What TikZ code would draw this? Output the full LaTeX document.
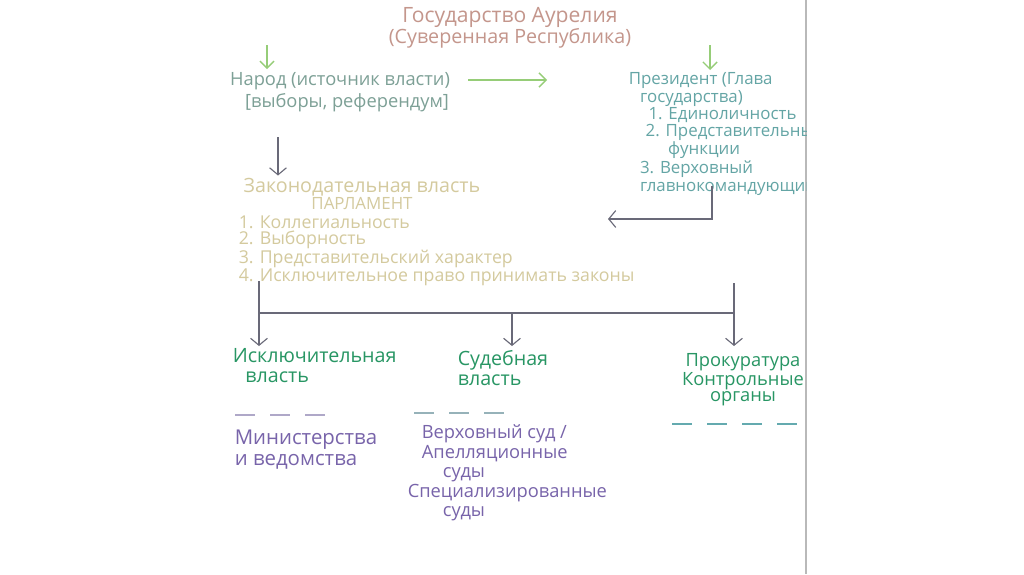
\documentclass[tikz,border=0pt]{standalone}
\usepackage{fontspec}
\setmainfont{Open Sans}
\usetikzlibrary{arrows.meta,positioning,calc}
\definecolor{hwtitle}{RGB}{196,150,140}
\definecolor{hwgreen}{RGB}{150,205,120}
\definecolor{hwpeople}{RGB}{125,160,150}
\definecolor{hwpres}{RGB}{100,165,165}
\definecolor{hwparl}{RGB}{212,202,158}
\definecolor{hwline}{RGB}{105,105,120}
\definecolor{hwbranch}{RGB}{40,150,100}
\definecolor{hwpurple}{RGB}{120,100,170}
\definecolor{hwdashL}{RGB}{175,168,200}
\definecolor{hwdashM}{RGB}{150,178,185}
\definecolor{hwdashR}{RGB}{100,170,175}

\begin{document}
\begin{tikzpicture}[x=0.025cm,y=-0.025cm,
  hwtext/.style={inner sep=0pt,outer sep=2pt},
  hwarr/.style={draw=hwline,line width=0.8pt,-{Straight Barb[length=5pt,width=12pt]}},
  hwgreenarr/.style={draw=hwgreen,line width=1pt,-{Straight Barb[length=5pt,width=10pt]}},
  hwdash/.style={line width=1.2pt,dash pattern=on 14pt off 11pt}
]
  \useasboundingbox[fill=white] (0,0) rectangle (1024,574);
  % page edge
  \draw[gray!55,line width=1pt] (806,0) -- (806,574);
  % Title
  \node[hwtext,align=center,text=hwtitle,font=\fontsize{14}{15}\selectfont] (title) at (510,28) {
    {\fontsize{15}{15}\selectfont Государство Аурелия}\\
    (Суверенная Республика)};
  % People
  \node[hwtext,align=center,text=hwpeople,font=\fontsize{13}{16}\selectfont] (people) at (340,92) {
    Народ (источник власти)\\
    \hspace*{10pt}[выборы, референдум]};
  % President
  \begin{scope}
    \clip (0,0) rectangle (806,574);
    \node[hwtext,anchor=north west,align=left,text=hwpres,font=\fontsize{12}{10.9}\selectfont] (president) at (626,70) {
      Президент (Глава\\
      \hspace*{8pt}государства)\\
      \hspace*{14pt}1. Единоличность\\
      \hspace*{12pt}2. Представительные\\
      \hspace*{28pt}функции\\
      \hspace*{8pt}3. Верховный\\
      \hspace*{8pt}главнокомандующий};
  \end{scope}
  % Parliament
  \node[hwtext,align=center,text=hwparl] (parliament) at (362,194) {
    {\fontsize{14}{11}\selectfont Законодательная власть}\\
    {\fontsize{12}{11}\selectfont ПАРЛАМЕНТ}};
  \node[hwtext,anchor=north west,align=left,text=hwparl,font=\fontsize{12.6}{11.4}\selectfont] (parllist) at (236,213) {
    1. Коллегиальность\\
    2. Выборность\\
    3. Представительский характер\\
    4. Исключительное право принимать законы};
  % Branches
  \node[hwtext,anchor=north west,align=left,text=hwbranch,font=\fontsize{14}{14}\selectfont] (exec) at (230,346) {
    Исключительная\\
    \hspace*{9pt}власть};
  \node[hwtext,anchor=north west,align=left,text=hwbranch,font=\fontsize{14}{14}\selectfont] (judic) at (455,348) {
    Судебная\\
    власть};
  \node[hwtext,align=center,text=hwbranch,font=\fontsize{13}{11.7}\selectfont] (prosec) at (743,380) {
    Прокуратура\\
    Контрольные\\
    органы};
  % Bodies
  \node[hwtext,anchor=north west,align=left,text=hwpurple,font=\fontsize{14.5}{15}\selectfont] (ministries) at (232,427) {
    Министерства\\
    и ведомства};
  \node[hwtext,anchor=north west,align=left,text=hwpurple,font=\fontsize{13}{13.9}\selectfont] (courts) at (405,422) {
    \hspace*{10pt}Верховный суд /\\
    \hspace*{10pt}Апелляционные\\
    \hspace*{25pt}суды\\
    Специализированные\\
    \hspace*{25pt}суды};
  % Green arrows
  \coordinate (peopletop) at (267,45);
  \coordinate (prestop) at (710,45);
  \draw[hwgreenarr] (peopletop) -- (peopletop |- people.north);
  \draw[hwgreenarr] (prestop) -- (prestop |- president.north);
  \coordinate (flowA) at (468,80);
  \coordinate (flowB) at (547,80);
  \draw[hwgreenarr] (flowA) -- (flowB);
  % Gray arrows
  \coordinate (downA) at (278,137);
  \draw[hwarr] (downA) -- (downA |- parliament.north);
  \coordinate (presbot) at (712,186);
  \coordinate (turn) at (712,219);
  \coordinate (parlin) at (608,219);
  \draw[hwarr] (presbot) -- (turn) -- (parlin);
  % Fork
  \coordinate (forkL) at (259,281);
  \coordinate (forkM) at (512,313);
  \coordinate (forkR) at (734,283);
  \draw[hwline,line width=0.8pt] (forkL |- forkM) -- (forkR |- forkM);
  \draw[hwarr] (forkL) -- (forkL |- exec.north);
  \draw[hwarr] (forkM) -- (forkM |- exec.north);
  \draw[hwarr] (forkR) -- (forkR |- exec.north);
  % Dashed separators
  \draw[hwdash,hwdashL] (235,415) -- (335,415);
  \draw[hwdash,hwdashM] (414,413) -- (508,413);
  \draw[hwdash,hwdashR] (672,424) -- (806,424);
\end{tikzpicture}
\end{document}
